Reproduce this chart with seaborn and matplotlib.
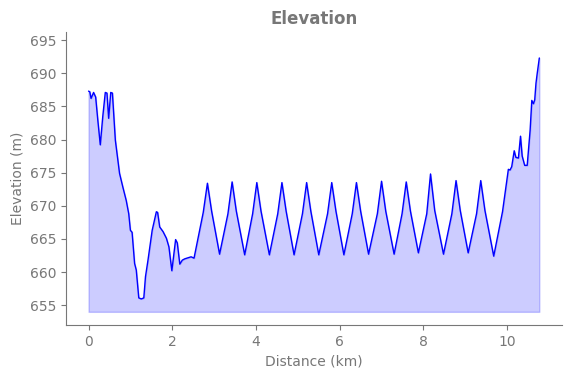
import matplotlib
matplotlib.use('Agg')
import matplotlib.pyplot as plt
import seaborn as sns
import pandas as pd

# distance (km) and elevation (m)
distance_km = [0.00, 0.03, 0.06, 0.12, 0.17, 0.22, 0.28, 0.34, 0.40, 0.44,
               0.48, 0.53, 0.57, 0.64, 0.74, 0.82, 0.90, 0.96, 1.00, 1.04,
               1.10, 1.14, 1.20, 1.26, 1.32, 1.36, 1.42, 1.52, 1.62, 1.65,
               1.70, 1.78, 1.86, 1.92, 1.99, 2.03, 2.08, 2.12, 2.18, 2.24,
               2.30, 2.40, 2.45, 2.52,
               2.74, 2.84, 2.94, 3.13, 3.33, 3.43, 3.53, 3.73, 3.92, 4.02,
               4.12, 4.32, 4.52, 4.62, 4.72, 4.91, 5.11, 5.21, 5.31, 5.50,
               5.71, 5.81, 5.91, 6.10, 6.30, 6.40, 6.50, 6.69, 6.90, 7.00,
               7.10, 7.30, 7.49, 7.59, 7.69, 7.88, 8.08, 8.17, 8.27, 8.48,
               8.68, 8.78, 8.88, 9.07, 9.27, 9.37, 9.47, 9.68, 9.89,
               10.03, 10.07, 10.11, 10.17, 10.21, 10.27, 10.32, 10.36, 10.42,
               10.48, 10.55, 10.59, 10.63, 10.66, 10.69, 10.72, 10.77]
elevation_m = [687.3, 687.2, 686.2, 687.1, 686.4, 683.0, 679.2, 683.5, 687.1, 687.0,
               683.2, 687.1, 687.0, 679.9, 674.9, 672.8, 670.8, 668.8, 666.3, 666.0,
               661.3, 660.3, 656.1, 655.95, 656.1, 659.3, 661.8, 666.3, 669.1, 669.0,
               666.8, 666.1, 665.1, 663.8, 660.2, 662.3, 664.9, 664.4, 661.2, 661.8,
               662.0, 662.2, 662.3, 662.1,
               669.0, 673.4, 669.2, 662.7, 668.8, 673.6, 669.2, 662.6, 668.8, 673.5,
               669.2, 662.6, 668.8, 673.5, 669.2, 662.6, 668.8, 673.5, 669.2, 662.6,
               668.8, 673.5, 669.2, 662.6, 668.8, 673.5, 669.2, 662.7, 668.8, 673.7,
               669.2, 662.7, 668.8, 673.6, 669.2, 662.9, 668.8, 674.8, 669.3, 662.7,
               668.8, 673.8, 669.3, 662.9, 668.8, 673.8, 669.3, 662.4, 669.1,
               675.5, 675.4, 675.9, 678.3, 677.3, 677.2, 680.5, 677.5, 676.1,
               676.1, 681.4, 685.9, 685.4, 686.0, 688.5, 690.0, 692.3]
base_elevation = 654

df = pd.DataFrame({'Distance (km)': distance_km, 'Elevation (m)': elevation_m})

sns.set_style('ticks')
grey = '#777777'

fig = plt.figure(figsize=(5.71, 3.78), dpi=100)
ax = fig.add_axes([0.1156, 0.140, 0.8684, 0.775])

ax.fill_between(df['Distance (km)'], df['Elevation (m)'], base_elevation,
                color='blue', alpha=0.2)
sns.lineplot(data=df, x='Distance (km)', y='Elevation (m)', color='blue',
             linewidth=1, ax=ax)

ax.set_ylim(652.0, 696.2)
ax.set_xticks([0, 2, 4, 6, 8, 10])
ax.set_yticks(range(655, 700, 5))
ax.set_title('Elevation', fontsize=12, fontweight='bold', color=grey)
ax.set_xlabel('Distance (km)', color=grey, fontsize=10)
ax.set_ylabel('Elevation (m)', color=grey, fontsize=10)
ax.tick_params(colors=grey, labelsize=10)
sns.despine(ax=ax)
for s in ['left', 'bottom']:
    ax.spines[s].set_color(grey)

fig.savefig('out.png', dpi=100)
